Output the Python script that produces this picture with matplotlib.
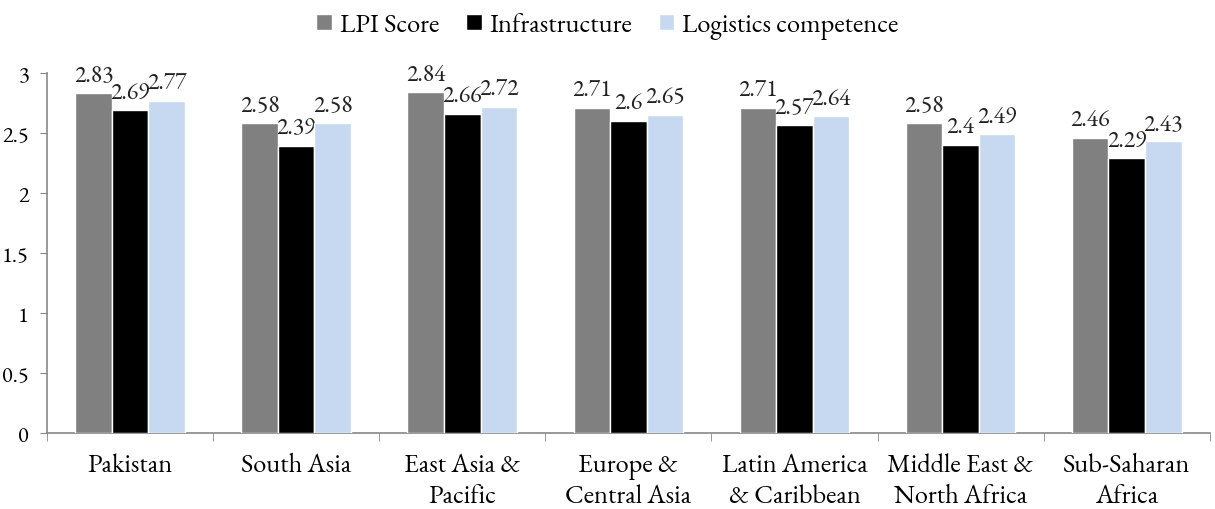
import matplotlib
matplotlib.use("Agg")
import matplotlib.pyplot as plt
import numpy as np

categories = ["Pakistan", "South Asia", "East Asia &\nPacific", "Europe &\nCentral Asia",
              "Latin America\n& Caribbean", "Middle East &\nNorth Africa", "Sub-Saharan\nAfrica"]
series_names = ["LPI Score", "Infrastructure", "Logistics competence"]
lpi = [2.83, 2.58, 2.84, 2.71, 2.71, 2.58, 2.46]
infra = [2.69, 2.39, 2.66, 2.60, 2.57, 2.40, 2.29]
logi = [2.77, 2.58, 2.72, 2.65, 2.64, 2.49, 2.43]
label_texts = [
    ["2.83", "2.58", "2.84", "2.71", "2.71", "2.58", "2.46"],
    ["2.69", "2.39", "2.66", "2.6", "2.57", "2.4", "2.29"],
    ["2.77", "2.58", "2.72", "2.65", "2.64", "2.49", "2.43"],
]
colors = ["#808080", "#000000", "#C6D9F1"]

plt.rcParams['font.family'] = ['EB Garamond', 'Liberation Serif', 'DejaVu Serif']

fig = plt.figure(figsize=(12.15, 5.1), dpi=100)
ax = fig.add_axes([0.0387, 0.149, 0.957, 0.706])

x = np.arange(len(categories))
w = 0.22
for i, (vals, c, name) in enumerate(zip([lpi, infra, logi], colors, series_names)):
    pos = x + (i - 1) * w
    bars = ax.bar(pos, vals, width=w, color=c, edgecolor="white", linewidth=1.0, label=name, zorder=3)
    for b, t in zip(bars, label_texts[i]):
        ax.annotate(t, (b.get_x() + b.get_width() / 2, b.get_height()), xytext=(0, 4),
                    textcoords="offset points", ha="center", va="bottom", fontsize=17, color="#222222")

ax.set_xlim(-0.5, len(categories) - 0.5)
ax.set_ylim(0, 3)
ax.set_yticks([0, 0.5, 1, 1.5, 2, 2.5, 3])
ax.set_yticklabels(["0", "0.5", "1", "1.5", "2", "2.5", "3"])
ax.set_xticks(x)
ax.set_xticklabels(categories, fontsize=19, linespacing=1.2)
ax.set_xticks(np.arange(len(categories) + 1) - 0.5, minor=True)
ax.tick_params(axis="x", which="major", length=0, pad=14)
ax.tick_params(axis="x", which="minor", length=6, color="#888888", direction="out")
ax.tick_params(axis="y", labelsize=16, length=5, color="#888888", direction="out", pad=8)
for s in ["top", "right"]:
    ax.spines[s].set_visible(False)
for s in ["left", "bottom"]:
    ax.spines[s].set_color("#888888")
    ax.spines[s].set_linewidth(1.2)

fig.legend(loc="upper center", bbox_to_anchor=(0.5, 1.02), ncol=3, frameon=False, fontsize=19,
           handlelength=0.6, handleheight=0.6, handletextpad=0.3, columnspacing=1.0)

fig.savefig("out.png", dpi=100)
